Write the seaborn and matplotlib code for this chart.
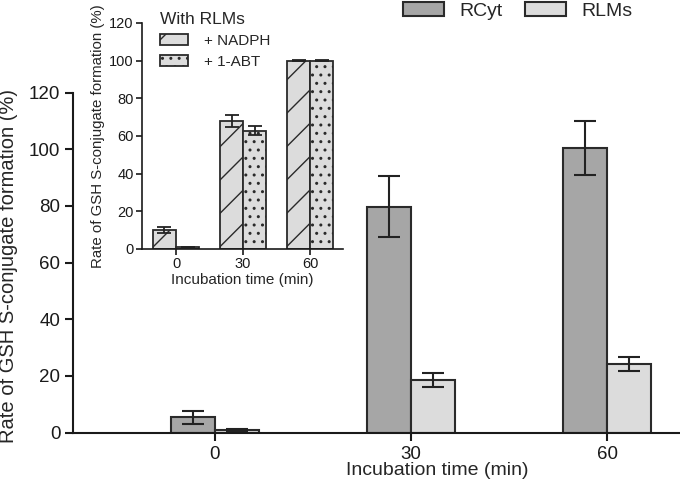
import numpy as np
import pandas as pd
import matplotlib
matplotlib.use("Agg")
import matplotlib.pyplot as plt
import matplotlib.patches as mpatches
import seaborn as sns

# ---- data ----
times = ["0", "30", "60"]
sources = ["RCyt", "RLMs"]
rcyt_mean = [5.3, 79.7, 100.4]
rcyt_err = [2.2, 10.8, 9.6]
rlms_mean = [1.0, 18.6, 24.2]
rlms_err = [0.4, 2.4, 2.4]

inset_groups = ["+ NADPH", "+ 1-ABT"]
nadph_mean = [10.2, 68.0, 100.0]
nadph_err = [1.6, 3.0, 0.4]
abt_mean = [0.8, 62.8, 100.0]
abt_err = [0.2, 2.4, 0.4]

main_colors = ["#a6a6a6", "#dcdcdc"]
inset_fill = "#dcdcdc"
edge = "#2a2a2a"

sns.set_theme(style="ticks")
plt.rcParams["font.family"] = ["Liberation Sans", "DejaVu Sans"]
plt.rcParams["hatch.linewidth"] = 1.0

fig = plt.figure(figsize=(6.8, 4.93), dpi=100)

# ---- main axes ----
ax = fig.add_axes([73/680, 1-432.5/493, 607/680, (432.5-92.7)/493])
df = pd.DataFrame({
    "time": times * 2,
    "source": [sources[0]] * 3 + [sources[1]] * 3,
    "value": rcyt_mean + rlms_mean,
})
sns.barplot(data=df, x="time", y="value", hue="source", order=times,
            hue_order=sources, palette=main_colors, width=0.45,
            edgecolor=edge, linewidth=1.5, errorbar=None, legend=False,
            saturation=1, ax=ax)
for cont, errs in zip(ax.containers, [rcyt_err, rlms_err]):
    xs = [p.get_x() + p.get_width()/2 for p in cont.patches]
    ys = [p.get_height() for p in cont.patches]
    ax.errorbar(xs, ys, yerr=errs, fmt="none", ecolor="#222222",
                elinewidth=1.5, capsize=7.8, capthick=1.5, zorder=5)

ax.set_xlim(-0.724, 2.372)
ax.set_ylim(0, 120)
ax.set_yticks(np.arange(0, 121, 20))
sns.despine(ax=ax)
for s in ["left", "bottom"]:
    ax.spines[s].set_linewidth(1.5)
    ax.spines[s].set_color("#1a1a1a")
ax.tick_params(axis="both", labelsize=13.5, length=6, width=1.5,
               colors="#1a1a1a", pad=3)
ax.tick_params(axis="x", pad=3.5)
ax.set_xlabel("Incubation time (min)", fontsize=14)
ax.set_ylabel("Rate of GSH S-conjugate formation (%)", fontsize=14.5)
ax.xaxis.set_label_coords(0.6005, -0.086)
ax.yaxis.set_label_coords(-0.09, 0.49)

handles = [mpatches.Patch(facecolor=c, edgecolor=edge, linewidth=1.5, label=s)
           for c, s in zip(main_colors, sources)]
fig.legend(handles=handles, loc="upper left", bbox_to_anchor=(395/680, 1.012),
           ncol=2, frameon=False, fontsize=14, handlelength=2.1,
           handleheight=0.75, handletextpad=0.8, columnspacing=1.15,
           borderaxespad=0)

# ---- inset ----
axi = fig.add_axes([142/680, 1-249/493, 201/680, 226/493])
dfi = pd.DataFrame({
    "time": times * 2,
    "group": [inset_groups[0]] * 3 + [inset_groups[1]] * 3,
    "value": nadph_mean + abt_mean,
})
sns.barplot(data=dfi, x="time", y="value", hue="group", order=times,
            hue_order=inset_groups, palette=[inset_fill, inset_fill],
            width=0.69, edgecolor=edge, linewidth=1.3, errorbar=None,
            legend=False, saturation=1, ax=axi)
hatches = ["/", ".."]
for cont, h, errs in zip(axi.containers, hatches, [nadph_err, abt_err]):
    for p in cont.patches:
        p.set_hatch(h)
    xs = [p.get_x() + p.get_width()/2 for p in cont.patches]
    ys = [p.get_height() for p in cont.patches]
    axi.errorbar(xs, ys, yerr=errs, fmt="none", ecolor="#222222",
                 elinewidth=1.3, capsize=5.0, capthick=1.3, zorder=5)
axi.set_xlim(-0.507, 2.49)
axi.set_ylim(0, 120)
axi.set_yticks(np.arange(0, 121, 20))
axi.patch.set_alpha(0)
sns.despine(ax=axi)
for s in ["left", "bottom"]:
    axi.spines[s].set_linewidth(1.2)
    axi.spines[s].set_color("#1a1a1a")
axi.tick_params(axis="both", labelsize=10.5, length=4, width=1.2,
                colors="#1a1a1a", pad=2)
axi.set_xlabel("Incubation time (min)", fontsize=11, labelpad=1)
axi.set_ylabel("Rate of GSH S-conjugate formation (%)", fontsize=10.8, labelpad=3)

ih = [mpatches.Patch(facecolor=inset_fill, edgecolor=edge, linewidth=1.3,
                     hatch=h, label=g) for h, g in zip(hatches, inset_groups)]
leg = fig.legend(handles=ih, title="With RLMs", loc="upper left",
                 bbox_to_anchor=(154/680, 1-6/493), frameon=False,
                 fontsize=11, title_fontsize=12.5, handlelength=1.8,
                 handleheight=0.7, handletextpad=1.1, labelspacing=0.45,
                 borderaxespad=0, alignment="left")

fig.savefig("out.png", dpi=100)
